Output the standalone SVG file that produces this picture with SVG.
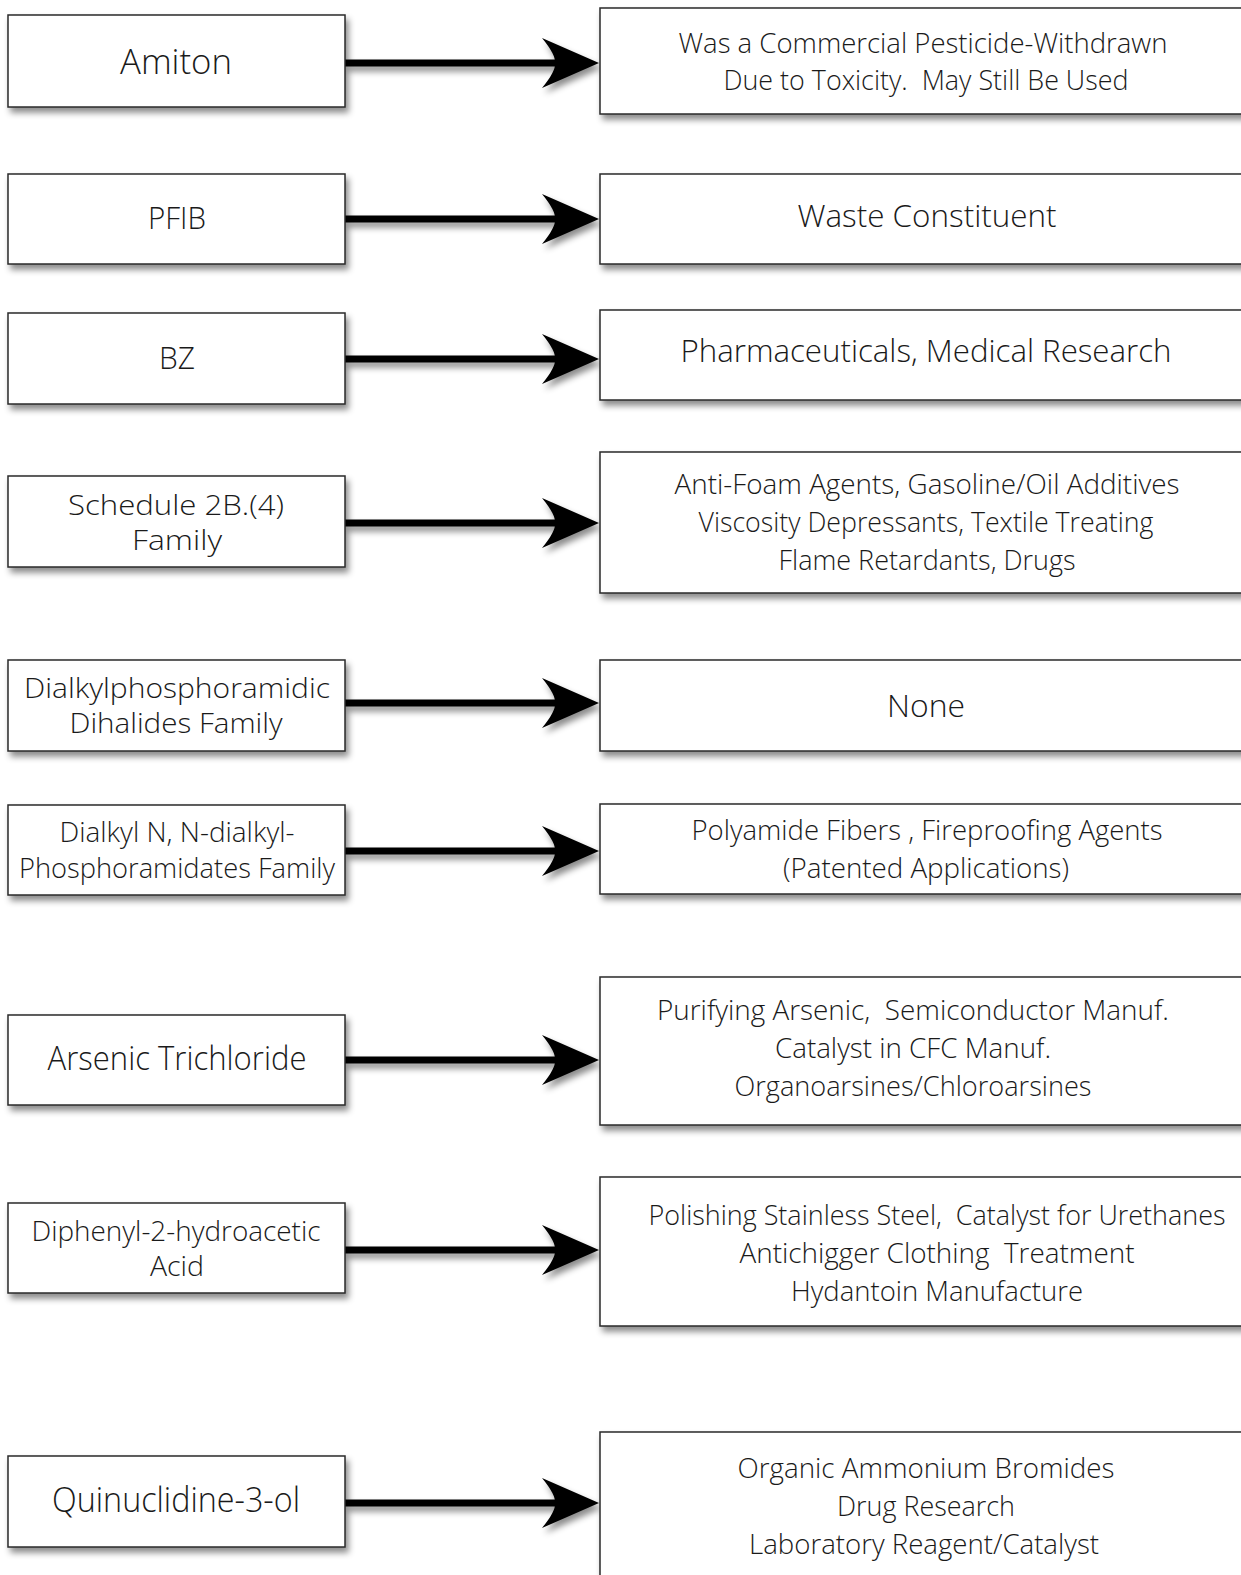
<svg xmlns="http://www.w3.org/2000/svg" width="1241" height="1575" viewBox="0 0 1241 1575">
  <defs>
    <filter id="shadow" x="-10%" y="-20%" width="130%" height="160%">
      <feDropShadow dx="3" dy="5" stdDeviation="3" flood-color="#000" flood-opacity="0.45"/>
    </filter>
    <path id="head" d="M0,0 L-57,-25 Q-43,-8 -44,0 Q-43,8 -57,25 Z"/>
  </defs>
  <style>
    .box { fill: #fff; stroke: #2a2a2a; stroke-width: 1.5; filter: url(#shadow); }
    .lbl { font-family: "Open Sans", "Liberation Sans", sans-serif; font-weight: 300; fill: #1a1a1a; text-anchor: middle; white-space: pre; }
    .shaft { stroke: #000; stroke-width: 7; fill: none; }
    .tip { fill: #000; }
    .arrow { filter: url(#shadow); }
  </style>
  <rect width="1241" height="1575" fill="#fff"/>

  <g id="connectors">
    <g class="arrow"><line class="shaft" x1="345" y1="63" x2="560" y2="63"/><use href="#head" class="tip" x="599" y="63"/></g>
    <g class="arrow"><line class="shaft" x1="345" y1="219" x2="560" y2="219"/><use href="#head" class="tip" x="599" y="219"/></g>
    <g class="arrow"><line class="shaft" x1="345" y1="359" x2="560" y2="359"/><use href="#head" class="tip" x="599" y="359"/></g>
    <g class="arrow"><line class="shaft" x1="345" y1="523" x2="560" y2="523"/><use href="#head" class="tip" x="599" y="523"/></g>
    <g class="arrow"><line class="shaft" x1="345" y1="703" x2="560" y2="703"/><use href="#head" class="tip" x="599" y="703"/></g>
    <g class="arrow"><line class="shaft" x1="345" y1="851" x2="560" y2="851"/><use href="#head" class="tip" x="599" y="851"/></g>
    <g class="arrow"><line class="shaft" x1="345" y1="1060" x2="560" y2="1060"/><use href="#head" class="tip" x="599" y="1060"/></g>
    <g class="arrow"><line class="shaft" x1="345" y1="1250" x2="560" y2="1250"/><use href="#head" class="tip" x="599" y="1250"/></g>
    <g class="arrow"><line class="shaft" x1="345" y1="1503" x2="560" y2="1503"/><use href="#head" class="tip" x="599" y="1503"/></g>
  </g>

  <!-- agents (left column) -->
  <g id="amiton">
    <rect class="box" x="8" y="15" width="337" height="92"/>
    <text class="lbl" x="176" y="74" font-size="35" textLength="112" lengthAdjust="spacingAndGlyphs">Amiton</text>
  </g>
  <g id="pfib">
    <rect class="box" x="8" y="174" width="337" height="90"/>
    <text class="lbl" x="177" y="229" font-size="31" textLength="58" lengthAdjust="spacingAndGlyphs">PFIB</text>
  </g>
  <g id="bz">
    <rect class="box" x="8" y="313" width="337" height="91"/>
    <text class="lbl" x="177" y="369" font-size="31" textLength="36" lengthAdjust="spacingAndGlyphs">BZ</text>
  </g>
  <g id="schedule-2b4">
    <rect class="box" x="8" y="476" width="337" height="91"/>
    <text class="lbl" x="176" y="515" font-size="28" textLength="216" lengthAdjust="spacingAndGlyphs">Schedule 2B.(4)</text>
    <text class="lbl" x="177" y="550" font-size="28" textLength="90" lengthAdjust="spacingAndGlyphs">Family</text>
  </g>
  <g id="dihalides">
    <rect class="box" x="8" y="660" width="337" height="91"/>
    <text class="lbl" x="177" y="698" font-size="28" textLength="306" lengthAdjust="spacingAndGlyphs">Dialkylphosphoramidic</text>
    <text class="lbl" x="176" y="733" font-size="28" textLength="213" lengthAdjust="spacingAndGlyphs">Dihalides Family</text>
  </g>
  <g id="phosphoramidates">
    <rect class="box" x="8" y="805" width="337" height="90"/>
    <text class="lbl" x="177" y="842" font-size="27" textLength="235" lengthAdjust="spacingAndGlyphs">Dialkyl N, N-dialkyl-</text>
    <text class="lbl" x="177" y="878" font-size="27" textLength="316" lengthAdjust="spacingAndGlyphs">Phosphoramidates Family</text>
  </g>
  <g id="arsenic-trichloride">
    <rect class="box" x="8" y="1015" width="337" height="90"/>
    <text class="lbl" x="177" y="1070" font-size="33" textLength="259" lengthAdjust="spacingAndGlyphs">Arsenic Trichloride</text>
  </g>
  <g id="diphenyl-acid">
    <rect class="box" x="8" y="1203" width="337" height="90"/>
    <text class="lbl" x="176" y="1241" font-size="27" textLength="289" lengthAdjust="spacingAndGlyphs">Diphenyl-2-hydroacetic</text>
    <text class="lbl" x="177" y="1276" font-size="27" textLength="54" lengthAdjust="spacingAndGlyphs">Acid</text>
  </g>
  <g id="quinuclidinol">
    <rect class="box" x="8" y="1456" width="337" height="91"/>
    <text class="lbl" x="176" y="1512" font-size="34" textLength="248" lengthAdjust="spacingAndGlyphs">Quinuclidine-3-ol</text>
  </g>

  <!-- uses (right column) -->
  <g id="use-amiton">
    <rect class="box" x="600" y="8" width="700" height="106"/>
    <text class="lbl" x="923" y="53" font-size="27" textLength="489" lengthAdjust="spacingAndGlyphs">Was a Commercial Pesticide-Withdrawn</text>
    <text class="lbl" x="926" y="90" font-size="27" textLength="405" lengthAdjust="spacingAndGlyphs">Due to Toxicity.  May Still Be Used</text>
  </g>
  <g id="use-pfib">
    <rect class="box" x="600" y="174" width="700" height="90"/>
    <text class="lbl" x="927" y="227" font-size="31" textLength="259" lengthAdjust="spacingAndGlyphs">Waste Constituent</text>
  </g>
  <g id="use-bz">
    <rect class="box" x="600" y="310" width="700" height="90"/>
    <text class="lbl" x="926" y="362" font-size="31" textLength="491" lengthAdjust="spacingAndGlyphs">Pharmaceuticals, Medical Research</text>
  </g>
  <g id="use-schedule-2b4">
    <rect class="box" x="600" y="452" width="700" height="141"/>
    <text class="lbl" x="927" y="494" font-size="27" textLength="505" lengthAdjust="spacingAndGlyphs">Anti-Foam Agents, Gasoline/Oil Additives</text>
    <text class="lbl" x="926" y="532" font-size="27" textLength="455" lengthAdjust="spacingAndGlyphs">Viscosity Depressants, Textile Treating</text>
    <text class="lbl" x="927" y="570" font-size="27" textLength="297" lengthAdjust="spacingAndGlyphs">Flame Retardants, Drugs</text>
  </g>
  <g id="use-dihalides">
    <rect class="box" x="600" y="660" width="700" height="91"/>
    <text class="lbl" x="926" y="717" font-size="31" textLength="78" lengthAdjust="spacingAndGlyphs">None</text>
  </g>
  <g id="use-phosphoramidates">
    <rect class="box" x="600" y="804" width="700" height="90"/>
    <text class="lbl" x="927" y="840" font-size="27" textLength="471" lengthAdjust="spacingAndGlyphs">Polyamide Fibers , Fireproofing Agents</text>
    <text class="lbl" x="926" y="878" font-size="27" textLength="286" lengthAdjust="spacingAndGlyphs">(Patented Applications)</text>
  </g>
  <g id="use-arsenic-trichloride">
    <rect class="box" x="600" y="977" width="700" height="148"/>
    <text class="lbl" x="913" y="1020" font-size="27" textLength="512" lengthAdjust="spacingAndGlyphs">Purifying Arsenic,  Semiconductor Manuf.</text>
    <text class="lbl" x="913" y="1058" font-size="27" textLength="276" lengthAdjust="spacingAndGlyphs">Catalyst in CFC Manuf.</text>
    <text class="lbl" x="913" y="1096" font-size="27" textLength="357" lengthAdjust="spacingAndGlyphs">Organoarsines/Chloroarsines</text>
  </g>
  <g id="use-diphenyl-acid">
    <rect class="box" x="600" y="1177" width="700" height="149"/>
    <text class="lbl" x="937" y="1225" font-size="27" textLength="577" lengthAdjust="spacingAndGlyphs">Polishing Stainless Steel,  Catalyst for Urethanes</text>
    <text class="lbl" x="937" y="1263" font-size="27" textLength="395" lengthAdjust="spacingAndGlyphs">Antichigger Clothing  Treatment</text>
    <text class="lbl" x="937" y="1301" font-size="27" textLength="292" lengthAdjust="spacingAndGlyphs">Hydantoin Manufacture</text>
  </g>
  <g id="use-quinuclidinol">
    <rect class="box" x="600" y="1432" width="700" height="200"/>
    <text class="lbl" x="926" y="1478" font-size="27" textLength="377" lengthAdjust="spacingAndGlyphs">Organic Ammonium Bromides</text>
    <text class="lbl" x="926" y="1516" font-size="27" textLength="178" lengthAdjust="spacingAndGlyphs">Drug Research</text>
    <text class="lbl" x="924" y="1554" font-size="27" textLength="350" lengthAdjust="spacingAndGlyphs">Laboratory Reagent/Catalyst</text>
  </g>
</svg>
